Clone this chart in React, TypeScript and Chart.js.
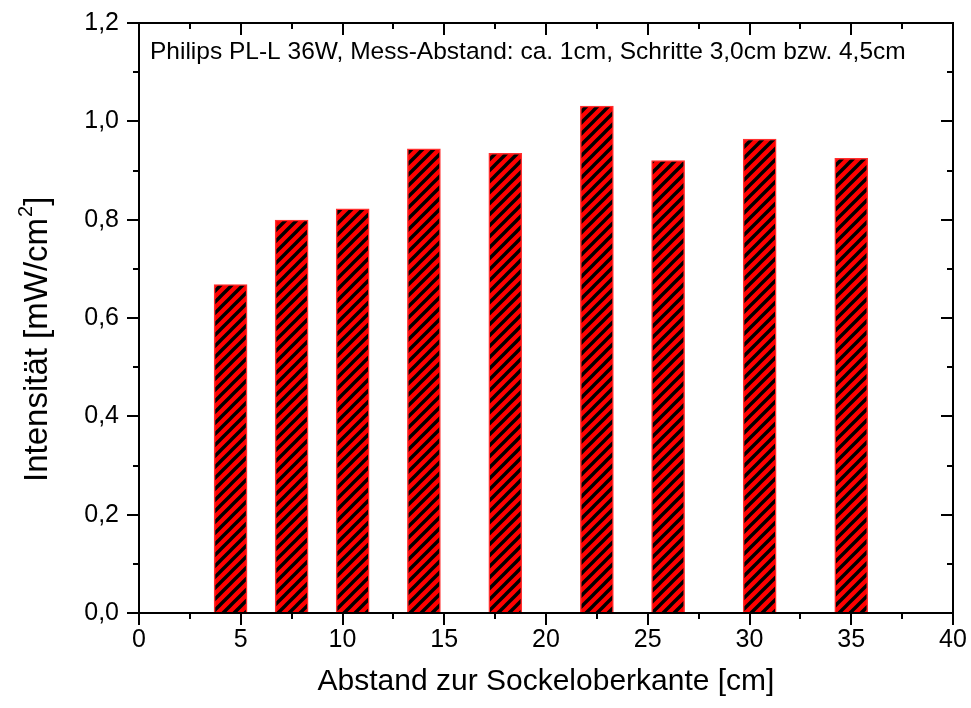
import React, { useEffect, useRef } from "react";
import { Chart, registerables } from "chart.js";

Chart.register(...registerables);

// ---- data ----
const positions = [4.5, 7.5, 10.5, 14, 18, 22.5, 26, 30.5, 35];
const intensities = [0.668, 0.799, 0.822, 0.944, 0.935, 1.031, 0.92, 0.964, 0.925];
const yTickLabels = ["0,0", "0,2", "0,4", "0,6", "0,8", "1,0", "1,2"];
const xTickLabels = ["0", "5", "10", "15", "20", "25", "30", "35", "40"];
const annotationText = "Philips PL-L 36W, Mess-Abstand: ca. 1cm, Schritte 3,0cm bzw. 4,5cm";
const xTitle = "Abstand zur Sockeloberkante [cm]";
const yTitleMain = "Intensität [mW/cm";
const yTitleSup = "2";
const yTitleEnd = "]";

const FONT = '"Liberation Sans", Arial, Helvetica, sans-serif';

function makeHatch(): CanvasPattern | string {
  const size = 11;
  const c = document.createElement("canvas");
  c.width = size;
  c.height = size;
  const g = c.getContext("2d");
  if (!g) return "#ff0000";
  g.fillStyle = "#ff0000";
  g.fillRect(0, 0, size, size);
  g.strokeStyle = "#000000";
  g.lineWidth = 3.4;
  g.beginPath();
  g.moveTo(-2, size + 2);
  g.lineTo(size + 2, -2);
  g.moveTo(-2, 2);
  g.lineTo(2, -2);
  g.moveTo(size - 2, size + 2);
  g.lineTo(size + 2, size - 2);
  g.stroke();
  const p = g.createPattern(c, "repeat");
  return p || "#ff0000";
}

const framePlugin = {
  id: "frameTicks",
  afterDatasetsDraw(chart: any) {
    const { ctx, chartArea: a, scales } = chart;
    const xs = scales.x;
    const ys = scales.y;
    ctx.save();
    ctx.strokeStyle = "#000";
    ctx.lineWidth = 2;
    ctx.lineCap = "butt";
    const line = (x1: number, y1: number, x2: number, y2: number) => {
      ctx.beginPath();
      ctx.moveTo(x1, y1);
      ctx.lineTo(x2, y2);
      ctx.stroke();
    };
    for (let i = 0; i <= 16; i++) {
      const v = i * 2.5;
      const px = Math.round(xs.getPixelForValue(v));
      const L = i % 2 === 0 ? 12 : 6;
      line(px, a.bottom, px, a.bottom + L);
      line(px, a.top, px, a.top + L);
    }
    for (let i = 0; i <= 12; i++) {
      const v = i * 0.1;
      const py = Math.round(ys.getPixelForValue(v));
      const L = i % 2 === 0 ? 12 : 6;
      line(a.left, py, a.left - L, py);
      line(a.right, py, a.right - L, py);
    }
    ctx.strokeRect(a.left, a.top, a.right - a.left, a.bottom - a.top);

    // annotation inside the plot
    ctx.fillStyle = "#000";
    ctx.font = `24.5px ${FONT}`;
    ctx.textBaseline = "middle";
    ctx.textAlign = "left";
    ctx.fillText(annotationText, a.left + 11, a.top + 29);

    // y-axis title with superscript
    ctx.translate(38, 482);
    ctx.rotate(-Math.PI / 2);
    ctx.font = `33px ${FONT}`;
    ctx.textBaseline = "middle";
    ctx.fillText(yTitleMain, 0, 0);
    let w = ctx.measureText(yTitleMain).width;
    ctx.font = `20px ${FONT}`;
    ctx.fillText(yTitleSup, w + 1, -12);
    w += ctx.measureText(yTitleSup).width + 1;
    ctx.font = `33px ${FONT}`;
    ctx.fillText(yTitleEnd, w, 0);
    ctx.restore();
  },
};

export default function App() {
  const ref = useRef<HTMLCanvasElement | null>(null);

  useEffect(() => {
    if (!ref.current) return;
    const hatch = makeHatch();
    const chart = new Chart(ref.current, {
      type: "bar",
      data: {
        datasets: [
          {
            label: "Intensität",
            data: positions.map((x, i) => ({ x, y: intensities[i] })),
            backgroundColor: hatch as any,
            borderColor: "#ff3030",
            borderWidth: 1.5,
            barThickness: 33,
          },
        ],
      },
      options: {
        animation: false,
        responsive: true,
        maintainAspectRatio: false,
        layout: { padding: { top: 23, right: 18, left: 0, bottom: 0 } },
        plugins: {
          legend: { display: false },
          tooltip: { enabled: false },
        },
        scales: {
          x: {
            type: "linear",
            min: 0,
            max: 40,
            offset: false,
            grid: { display: false, drawTicks: false },
            border: { display: false },
            afterFit: (s: any) => {
              s.height = 95;
              s.paddingLeft = 0;
              s.paddingRight = 0;
            },
            ticks: {
              stepSize: 5,
              padding: 12,
              color: "#000",
              font: { family: FONT, size: 25 },
              maxRotation: 0,
              callback: (v: any) => xTickLabels[Math.round(Number(v) / 5)] ?? "",
            },
            title: {
              display: true,
              text: xTitle,
              color: "#000",
              font: { family: FONT, size: 30 },
              padding: { top: 0, bottom: 8 },
            },
          },
          y: {
            min: 0,
            max: 1.2,
            grid: { display: false, drawTicks: false },
            border: { display: false },
            afterFit: (s: any) => {
              s.width = 139;
              s.paddingTop = 0;
              s.paddingBottom = 0;
            },
            ticks: {
              stepSize: 0.2,
              padding: 20,
              color: "#000",
              font: { family: FONT, size: 25 },
              callback: (v: any) => yTickLabels[Math.round(Number(v) / 0.2)] ?? "",
            },
            title: { display: false },
          },
        },
      },
      plugins: [framePlugin],
    });
    return () => chart.destroy();
  }, []);

  return (
    <div style={{ position: "absolute", left: 0, top: 0, width: 971, height: 708, background: "#fff" }}>
      <canvas ref={ref} />
    </div>
  );
}
